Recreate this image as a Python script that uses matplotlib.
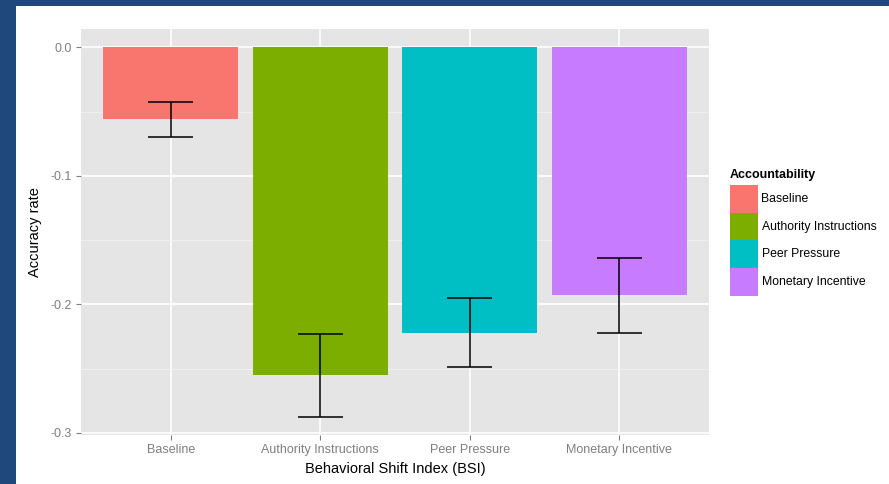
import matplotlib
matplotlib.use("Agg")
import matplotlib.pyplot as plt
from matplotlib.patches import Rectangle
import numpy as np

plt.rcParams["font.family"] = ["Liberation Sans", "DejaVu Sans"]
plt.rcParams["axes.unicode_minus"] = False

# Mean accuracy change and standard error per accountability condition
conditions = ["Baseline", "Authority Instructions", "Peer Pressure", "Monetary Incentive"]
accuracy = [-0.056, -0.255, -0.222, -0.193]
std_err = [0.0136, 0.0323, 0.0271, 0.0289]
colors = ["#F8766D", "#7CAE00", "#00BFC4", "#C77CFF"]
y_ticks = [0.0, -0.1, -0.2, -0.3]
y_minor = [-0.05, -0.15, -0.25]

W, H = 889, 484
fig = plt.figure(figsize=(W / 100, H / 100), dpi=100)
fig.patch.set_facecolor("white")


def fx(px):
    return px / W


def fy(py):
    return 1 - py / H


# dark frame along the left and top edges
fig.add_artist(Rectangle((0, 0), fx(16), 1, transform=fig.transFigure,
                         facecolor="#1F497D", edgecolor="none", zorder=0))
fig.add_artist(Rectangle((0, fy(6)), 1, 6 / H, transform=fig.transFigure,
                         facecolor="#1F497D", edgecolor="none", zorder=0))

left, right, top, bottom = 81, 709, 29, 435
ax = fig.add_axes([fx(left), fy(bottom), (right - left) / W, (bottom - top) / H])
ax.set_facecolor("#E5E5E5")
for s in ax.spines.values():
    s.set_visible(False)

x = np.arange(1, len(conditions) + 1)
acc = np.array(accuracy)
se = np.array(std_err)
ax.bar(x, acc, width=0.9, color=colors, zorder=3)
ax.vlines(x, acc - se, acc + se, color="black", lw=1.1, zorder=4)
# caps of width 0.3 in data units
for xi, lo, hi in zip(x, acc - se, acc + se):
    ax.hlines([lo, hi], xi - 0.15, xi + 0.15, color="black", lw=1.1, zorder=4)

ymin = float(np.min(acc - se))
ymax = 0.0
pad = 0.05 * (ymax - ymin)
ax.set_ylim(ymin - pad, ymax + pad)
ax.set_xlim(0.4, len(conditions) + 0.6)

ax.set_xticks(x)
ax.set_xticklabels(conditions)
ax.set_yticks(y_ticks)
ax.set_yticklabels([f"{v:.1f}" for v in y_ticks])
ax.set_yticks(y_minor, minor=True)
ax.tick_params(axis="both", which="major", colors="#7F7F7F", labelcolor="#7F7F7F",
               labelsize=9, length=3.5, width=0.8, pad=3)
ax.tick_params(axis="y", which="minor", length=0)
ax.grid(which="major", color="white", lw=1.2, zorder=1)
ax.grid(which="minor", axis="y", color="#F2F2F2", lw=0.6, zorder=1)
ax.set_axisbelow(True)

ax.set_xlabel("Behavioral Shift Index (BSI)", fontsize=10.5, color="black", labelpad=4)
ax.set_ylabel("Accuracy rate", fontsize=10.5, color="black", labelpad=6)

# legend: title above a stack of contiguous colour keys
key_x, key_y, key_w, key_h = 730, 185, 28, 27.75
fig.text(fx(key_x), fy(175), "Accountability", fontsize=9, fontweight="bold",
         ha="left", va="center")
for i, (label, c) in enumerate(zip(conditions, colors)):
    y0 = key_y + i * key_h
    fig.add_artist(Rectangle((fx(key_x), fy(y0 + key_h)), key_w / W, key_h / H,
                             transform=fig.transFigure, facecolor=c,
                             edgecolor="none"))
    fig.text(fx(key_x + key_w + 3.5), fy(y0 + key_h / 2), label, fontsize=8.8,
             ha="left", va="center", color="black")

fig.savefig("out.png", dpi=100)
